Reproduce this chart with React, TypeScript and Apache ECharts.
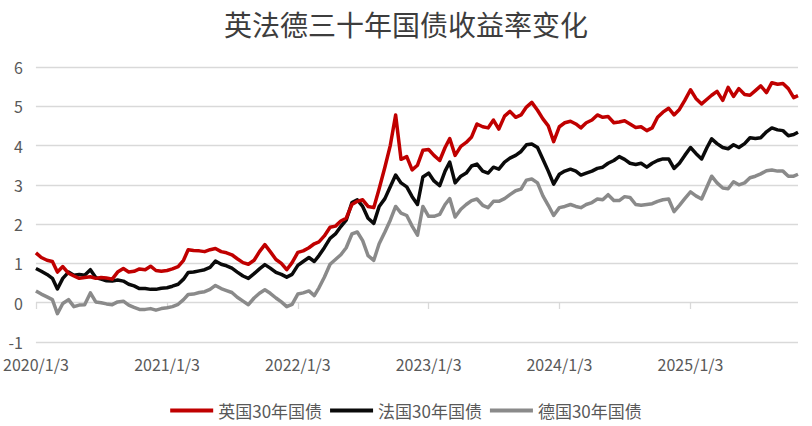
import React, { useEffect, useRef } from "react";
import * as echarts from "echarts";

const titleText = "英法德三十年国债收益率变化";
const seriesNames = ["英国30年国债", "法国30年国债", "德国30年国债"];
const seriesColors = ["#C00000", "#0a0a0a", "#8a8a8a"];

const xTickLabels = ["2020/1/3", "2021/1/3", "2022/1/3", "2023/1/3", "2024/1/3", "2025/1/3"];
const yTicks = [-1, 0, 1, 2, 3, 4, 5, 6];

const dates = [
  "2020-01-03", "2020-01-18", "2020-02-03", "2020-02-18", "2020-03-03", "2020-03-18", "2020-04-03", "2020-04-18", "2020-05-03", "2020-05-18", "2020-06-03", "2020-06-18",
  "2020-07-03", "2020-07-18", "2020-08-03", "2020-08-18", "2020-09-03", "2020-09-18", "2020-10-03", "2020-10-18", "2020-11-03", "2020-11-18", "2020-12-03", "2020-12-18",
  "2021-01-03", "2021-01-18", "2021-02-03", "2021-02-18", "2021-03-03", "2021-03-18", "2021-04-03", "2021-04-18", "2021-05-03", "2021-05-18", "2021-06-03", "2021-06-18",
  "2021-07-03", "2021-07-18", "2021-08-03", "2021-08-18", "2021-09-03", "2021-09-18", "2021-10-03", "2021-10-18", "2021-11-03", "2021-11-18", "2021-12-03", "2021-12-18",
  "2022-01-03", "2022-01-18", "2022-02-03", "2022-02-18", "2022-03-03", "2022-03-18", "2022-04-03", "2022-04-18", "2022-05-03", "2022-05-18", "2022-06-03", "2022-06-18",
  "2022-07-03", "2022-07-18", "2022-08-03", "2022-08-18", "2022-09-03", "2022-09-18", "2022-10-03", "2022-10-18", "2022-11-03", "2022-11-18", "2022-12-03", "2022-12-18",
  "2023-01-03", "2023-01-18", "2023-02-03", "2023-02-18", "2023-03-03", "2023-03-18", "2023-04-03", "2023-04-18", "2023-05-03", "2023-05-18", "2023-06-03", "2023-06-18",
  "2023-07-03", "2023-07-18", "2023-08-03", "2023-08-18", "2023-09-03", "2023-09-18", "2023-10-03", "2023-10-18", "2023-11-03", "2023-11-18", "2023-12-03", "2023-12-18",
  "2024-01-03", "2024-01-18", "2024-02-03", "2024-02-18", "2024-03-03", "2024-03-18", "2024-04-03", "2024-04-18", "2024-05-03", "2024-05-18", "2024-06-03", "2024-06-18",
  "2024-07-03", "2024-07-18", "2024-08-03", "2024-08-18", "2024-09-03", "2024-09-18", "2024-10-03", "2024-10-18", "2024-11-03", "2024-11-18", "2024-12-03", "2024-12-18",
  "2025-01-03", "2025-01-18", "2025-02-03", "2025-02-18", "2025-03-03", "2025-03-18", "2025-04-03", "2025-04-18", "2025-05-03", "2025-05-18", "2025-06-03", "2025-06-18",
  "2025-07-03", "2025-07-18", "2025-08-03", "2025-08-18", "2025-09-03", "2025-09-18", "2025-10-03", "2025-10-18", "2025-10-30",
];

const ukYield = [
  1.27, 1.15, 1.08, 1.05, 0.78, 0.92, 0.75, 0.68, 0.62, 0.64, 0.66, 0.62, 0.64, 0.63, 0.60, 0.78, 0.87, 0.78, 0.80, 0.86, 0.84, 0.93, 0.82, 0.80,
  0.82, 0.86, 0.92, 1.08, 1.35, 1.33, 1.32, 1.30, 1.35, 1.38, 1.30, 1.27, 1.22, 1.12, 1.02, 0.98, 1.08, 1.30, 1.48, 1.30, 1.10, 1.00, 0.84, 1.02,
  1.28, 1.32, 1.40, 1.50, 1.55, 1.70, 1.92, 1.95, 2.08, 2.15, 2.50, 2.58, 2.62, 2.45, 2.42, 2.90, 3.45, 4.00, 4.78, 3.65, 3.72, 3.38, 3.50, 3.88,
  3.90, 3.75, 3.62, 3.95, 4.18, 3.75, 3.98, 4.08, 4.22, 4.55, 4.48, 4.45, 4.65, 4.42, 4.75, 4.87, 4.72, 4.78, 4.98, 5.10, 4.90, 4.68, 4.50, 4.10,
  4.48, 4.58, 4.62, 4.55, 4.45, 4.58, 4.65, 4.78, 4.72, 4.74, 4.58, 4.60, 4.63, 4.55, 4.46, 4.48, 4.38, 4.45, 4.72, 4.85, 4.95, 4.78, 4.92, 5.15,
  5.42, 5.20, 5.06, 5.18, 5.28, 5.38, 5.15, 5.48, 5.25, 5.45, 5.30, 5.28, 5.40, 5.52, 5.35, 5.60, 5.56, 5.58, 5.45, 5.22, 5.27,
];

const frYield = [
  0.87, 0.80, 0.72, 0.62, 0.35, 0.62, 0.78, 0.70, 0.72, 0.70, 0.84, 0.64, 0.60, 0.56, 0.55, 0.58, 0.55, 0.47, 0.43, 0.36, 0.36, 0.34, 0.34, 0.37,
  0.38, 0.42, 0.47, 0.60, 0.77, 0.78, 0.81, 0.84, 0.90, 1.06, 0.98, 0.94, 0.88, 0.78, 0.68, 0.62, 0.74, 0.86, 0.97, 0.88, 0.77, 0.72, 0.65, 0.72,
  0.95, 1.05, 1.15, 1.05, 1.20, 1.40, 1.64, 1.75, 1.94, 2.10, 2.55, 2.62, 2.45, 2.15, 2.02, 2.45, 2.65, 2.95, 3.25, 3.05, 2.95, 2.70, 2.50, 3.20,
  3.30, 3.10, 2.98, 3.35, 3.58, 3.05, 3.22, 3.30, 3.48, 3.53, 3.35, 3.30, 3.45, 3.40, 3.58, 3.68, 3.75, 3.85, 4.02, 4.04, 3.95, 3.65, 3.35, 3.02,
  3.27, 3.35, 3.40, 3.35, 3.25, 3.30, 3.35, 3.42, 3.45, 3.55, 3.62, 3.72, 3.65, 3.55, 3.52, 3.55, 3.45, 3.55, 3.62, 3.66, 3.66, 3.42, 3.55, 3.75,
  3.95, 3.80, 3.66, 3.95, 4.17, 4.05, 3.95, 3.92, 4.02, 3.95, 4.05, 4.20, 4.18, 4.20, 4.35, 4.45, 4.40, 4.38, 4.25, 4.28, 4.34,
];

const deYield = [
  0.30, 0.22, 0.15, 0.08, -0.28, -0.02, 0.08, -0.10, -0.06, -0.05, 0.25, 0.02, 0.00, -0.03, -0.05, 0.02, 0.04, -0.06, -0.12, -0.17, -0.17, -0.15, -0.19, -0.15,
  -0.13, -0.10, -0.04, 0.08, 0.21, 0.22, 0.26, 0.28, 0.34, 0.44, 0.36, 0.31, 0.26, 0.14, 0.04, -0.05, 0.12, 0.24, 0.33, 0.24, 0.12, 0.02, -0.10, -0.04,
  0.22, 0.25, 0.30, 0.18, 0.38, 0.65, 0.98, 1.10, 1.22, 1.40, 1.75, 1.80, 1.58, 1.20, 1.08, 1.50, 1.80, 2.10, 2.45, 2.28, 2.22, 1.95, 1.72, 2.45,
  2.20, 2.20, 2.25, 2.50, 2.65, 2.18, 2.38, 2.50, 2.60, 2.64, 2.48, 2.42, 2.58, 2.58, 2.65, 2.75, 2.85, 2.89, 3.12, 3.15, 3.05, 2.72, 2.48, 2.22,
  2.42, 2.45, 2.50, 2.45, 2.42, 2.50, 2.55, 2.64, 2.62, 2.75, 2.60, 2.60, 2.70, 2.68, 2.50, 2.48, 2.50, 2.52, 2.58, 2.62, 2.64, 2.32, 2.48, 2.65,
  2.82, 2.72, 2.64, 2.95, 3.22, 3.05, 2.92, 2.90, 3.08, 3.00, 3.05, 3.18, 3.22, 3.28, 3.36, 3.38, 3.35, 3.35, 3.22, 3.22, 3.27,
];

const DAY = 86400000;
const START = Date.UTC(2020, 0, 3);
const toDays = (iso: string) => {
  const [y, m, d] = iso.split("-").map(Number);
  return Math.round((Date.UTC(y, m - 1, d) - START) / DAY);
};
const labelToDays = (lbl: string) => {
  const [y, m, d] = lbl.split("/").map(Number);
  return Math.round((Date.UTC(y, m - 1, d) - START) / DAY);
};

const FONT = "'Noto Sans CJK SC', 'Noto Sans', sans-serif";
const GRID_COLOR = "#d9d9d9";

export default function App() {
  const ref = useRef<HTMLDivElement>(null);

  useEffect(() => {
    document.body.style.margin = "0";
    if (!ref.current) return;
    const chart = echarts.init(ref.current, null, { renderer: "svg" });
    const tickDays = xTickLabels.map(labelToDays);
    const lastDay = toDays(dates[dates.length - 1]);
    const allSeries = [ukYield, frYield, deYield];

    // small tick marks hanging below the zero line (the axis crosses at 0)
    const zeroTicks = tickDays.map((d) => [
      { coord: [d, 0] },
      { coord: [d, -0.16] },
    ]);

    chart.setOption({
      animation: false,
      backgroundColor: "#ffffff",
      title: {
        text: titleText,
        left: "center",
        top: 5,
        textStyle: { fontFamily: FONT, fontSize: 28, fontWeight: "normal", color: "#3d3d3d" },
      },
      legend: {
        data: seriesNames,
        top: 397,
        left: "center",
        icon: "rect",
        itemWidth: 43,
        itemHeight: 4,
        itemGap: 8,
        textStyle: { fontFamily: FONT, fontSize: 17, color: "#595959" },
      },
      grid: { left: 32, right: 14, top: 67, bottom: 84 },
      xAxis: {
        type: "value",
        min: 0,
        max: lastDay,
        axisLine: { show: false, onZero: false },
        axisTick: { show: false },
        axisLabel: {
          customValues: tickDays,
          margin: 14,
          lineHeight: 16,
          fontFamily: FONT,
          fontSize: 16,
          color: "#595959",
          formatter: (v: number) => {
            const i = tickDays.indexOf(Math.round(v));
            return i >= 0 ? xTickLabels[i] : "";
          },
        },
        splitLine: { show: false },
      },
      yAxis: {
        type: "value",
        min: yTicks[0],
        max: yTicks[yTicks.length - 1],
        interval: 1,
        axisLine: { show: false },
        axisTick: { show: false },
        axisLabel: { margin: 13, lineHeight: 14, fontFamily: FONT, fontSize: 16, color: "#595959" },
        splitLine: { lineStyle: { color: GRID_COLOR, width: 1.3 } },
      },
      series: seriesNames.map((name, k) => ({
        name,
        type: "line",
        showSymbol: false,
        symbol: "none",
        color: seriesColors[k],
        lineStyle: { width: 3.5, color: seriesColors[k], join: "round" },
        data: dates.map((d, i) => [toDays(d), allSeries[k][i]]),
        z: 3 - k,
        markLine:
          k === 0
            ? {
                silent: true,
                symbol: ["none", "none"],
                label: { show: false },
                lineStyle: { color: GRID_COLOR, width: 1.3, type: "solid" },
                data: zeroTicks,
                z: 1,
              }
            : undefined,
      })),
    });

    return () => chart.dispose();
  }, []);

  return (
    <div
      ref={ref}
      style={{ position: "fixed", left: 0, top: 0, width: 812, height: 426, background: "#fff" }}
    />
  );
}
